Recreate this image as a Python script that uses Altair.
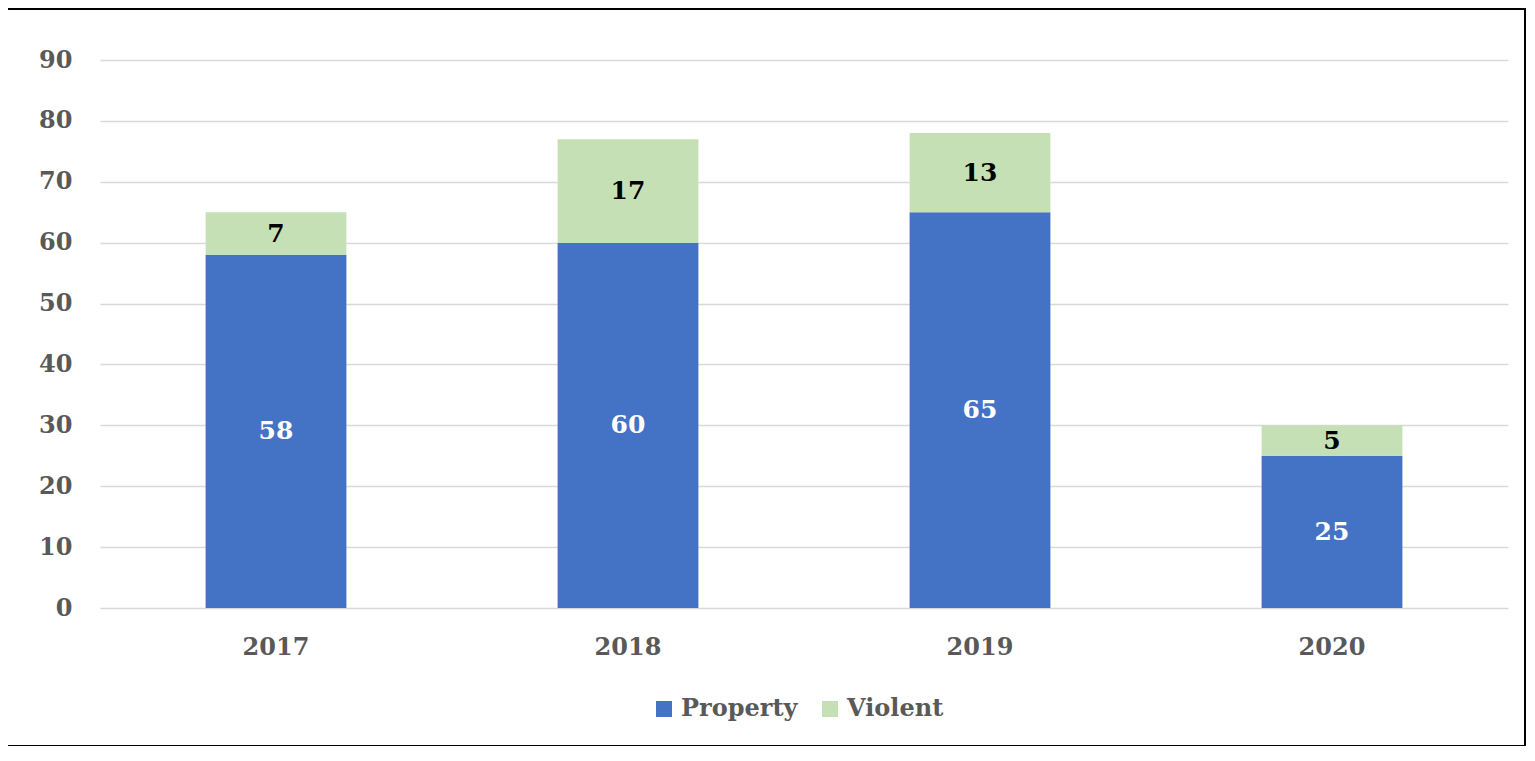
import altair as alt
import pandas as pd

years = ["2017", "2018", "2019", "2020"]
property_vals = [58, 60, 65, 25]
violent_vals = [7, 17, 13, 5]
series = ["Property", "Violent"]
colors = ["#4472C4", "#C5E0B4"]
y_ticks = [0, 10, 20, 30, 40, 50, 60, 70, 80, 90]

rows = []
for i, yr in enumerate(years):
    rows.append({"year": yr, "series": series[0], "value": property_vals[i], "ord": 0})
    rows.append({"year": yr, "series": series[1], "value": violent_vals[i], "ord": 1})
df = pd.DataFrame(rows)

FONT = "DejaVu Serif"
GRAY = "#595959"

x_enc = alt.X(
    "year:N",
    sort=years,
    scale=alt.Scale(paddingInner=0.6, paddingOuter=0.3),
    axis=alt.Axis(title=None, labelAngle=0, labelPadding=27, grid=False,
                  domain=False, ticks=False),
)
y_enc = alt.Y(
    "value:Q",
    stack="zero",
    scale=alt.Scale(domain=[0, 90], nice=False),
    axis=alt.Axis(title=None, values=y_ticks, labelPadding=28, grid=True,
                  gridColor="#D9D9D9", gridWidth=1.5, domain=False, ticks=False),
)

bars = alt.Chart(df).mark_bar().encode(
    x=x_enc,
    y=y_enc,
    color=alt.Color(
        "series:N",
        scale=alt.Scale(domain=series, range=colors),
        legend=alt.Legend(
            title=None, orient="none", legendX=552, legendY=637,
            direction="horizontal", symbolType="square", symbolSize=256,
            symbolStrokeWidth=0, labelFont=FONT, labelFontSize=24,
            labelFontWeight="bold", labelColor=GRAY, columnPadding=20,
            labelOffset=5,
        ),
    ),
    order=alt.Order("ord:Q", sort="ascending"),
)

labels = (
    alt.Chart(df)
    .transform_stack(stack="value", groupby=["year"], as_=["y0", "y1"],
                     sort=[alt.SortField("ord", order="ascending")])
    .transform_calculate(mid="(datum.y0 + datum.y1) / 2")
    .mark_text(font=FONT, fontSize=25, fontWeight="bold", baseline="middle")
    .encode(
        x=alt.X("year:N", sort=years),
        y=alt.Y("mid:Q"),
        text=alt.Text("value:Q"),
        color=alt.when(alt.datum.series == "Property")
        .then(alt.value("white"))
        .otherwise(alt.value("black")),
    )
)

frame = alt.Chart(pd.DataFrame({"a": [0]})).mark_rect(
    fillOpacity=0, stroke="black", strokeWidth=2
).encode(
    x=alt.value(-93), x2=alt.value(1425), y=alt.value(-51), y2=alt.value(686)
)

chart = (
    alt.layer(frame, bars, labels)
    .properties(
        width=1408, height=548, autosize="none",
        padding={"left": 92, "top": 52, "right": 19, "bottom": 138},
    )
    .configure_view(strokeWidth=0)
    .configure_axis(labelFont=FONT, labelFontSize=24, labelFontWeight="bold",
                    labelColor=GRAY)
)

chart.save("out.html", embed_options={"renderer": "svg", "actions": False})
